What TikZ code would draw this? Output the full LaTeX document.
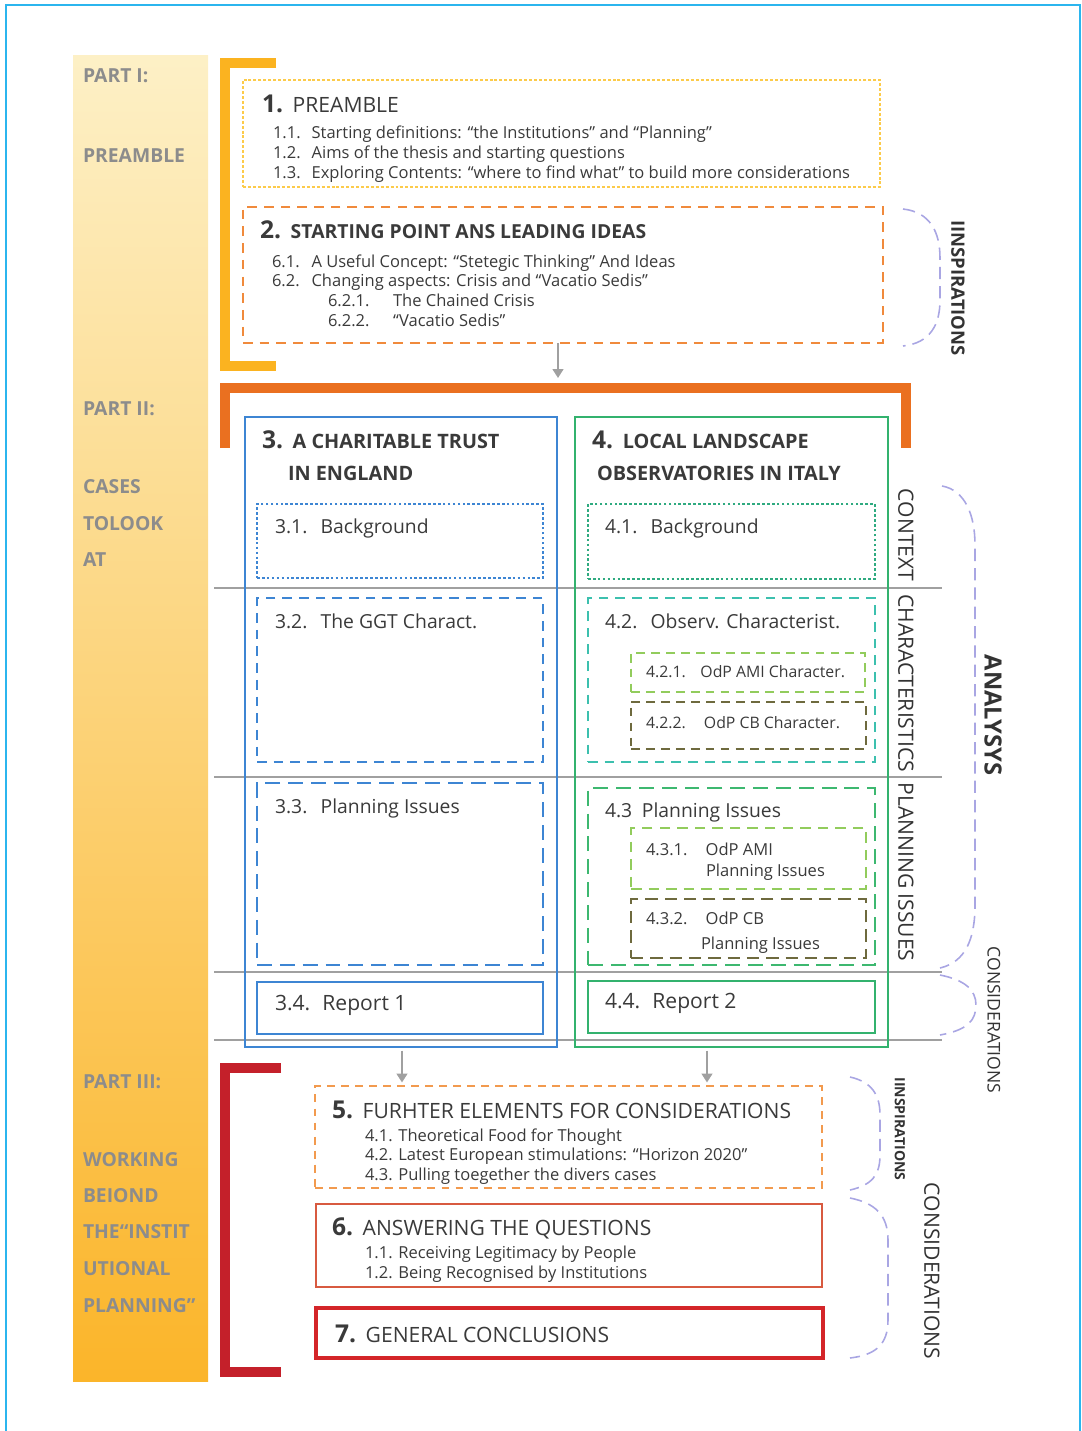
\documentclass[tikz,border=0pt]{standalone}
\usepackage{fontspec}
\setmainfont{Open Sans}
\usetikzlibrary{arrows.meta}

\definecolor{coltop}{HTML}{FDF0C6}
\definecolor{colbot}{HTML}{FBB52A}
\definecolor{brkone}{HTML}{FBB320}
\definecolor{brktwo}{HTML}{EA7020}
\definecolor{brkthree}{HTML}{C4202A}
\definecolor{yelbox}{HTML}{FCCB4A}
\definecolor{orgbox}{HTML}{F08A3C}
\definecolor{orgfive}{HTML}{F29A4E}
\definecolor{blubox}{HTML}{3D85D3}
\definecolor{grnbox}{HTML}{33B26E}
\definecolor{tealdot}{HTML}{2FAA80}
\definecolor{tealbox}{HTML}{3CC0AE}
\definecolor{lgrnbox}{HTML}{92CC5C}
\definecolor{olvbox}{HTML}{6E6A3E}
\definecolor{grnthree}{HTML}{3DB870}
\definecolor{redsix}{HTML}{D85A40}
\definecolor{redseven}{HTML}{D42529}
\definecolor{lavender}{HTML}{A9A6E3}
\definecolor{linegray}{HTML}{A0A0A0}
\definecolor{framecol}{HTML}{2BB5EE}
\definecolor{txtgray}{HTML}{3A3A3A}
\definecolor{partgray}{HTML}{8C8C8C}

\newcommand{\bignum}[1]{\makebox[17.5pt][l]{\fontsize{14}{14}\selectfont\bfseries #1}}
\newcommand{\itemno}[2]{\makebox[#1][l]{#2}}

\begin{document}
\begin{tikzpicture}[x=0.02cm, y=-0.02cm,
    every node/.style={inner sep=0pt, outer sep=0pt, text=txtgray},
    wh/.style 2 args={minimum width=#1*0.02cm, minimum height=#2*0.02cm},
    bx/.style={anchor=north west},
    part/.style={anchor=base west, text=partgray, font=\fontsize{11}{13}\selectfont\bfseries},
    head/.style={anchor=base west, font=\fontsize{12}{14}\selectfont},
    bhead/.style={anchor=base west, font=\fontsize{11.3}{13}\selectfont\bfseries},
    sub/.style={anchor=base west, font=\fontsize{11}{13}\selectfont},
    small/.style={anchor=base west, font=\fontsize{9.4}{11}\selectfont},
    side/.style={rotate=-90, text=black!80, font=\fontsize{12}{14}\selectfont},
    grid/.style={draw=linegray, line width=1.1pt},
    brc/.style={draw=lavender, line width=0.9pt, dash pattern=on 7pt off 4pt},
    arr/.style={draw=linegray, line width=1.2pt, -{Triangle[length=5pt,width=6pt]}},
    ]
    \useasboundingbox (0,0) rectangle (1082,1431);
    \draw[framecol, line width=0.9pt] (6,1440) -- (6,5) -- (1080,5) -- (1080,1440);

    % left column
    \shade[top color=coltop, bottom color=colbot] (73,55) rectangle (208,1381);
    \node[part] (p1a) at (83,82) {PART I:};
    \node[part] (p1b) at (83,162) {PREAMBLE};
    \node[part] (p2a) at (83,415) {PART II:};
    \node[part] (p2b) at (83,493) {CASES};
    \node[part] (p2c) at (83,530) {TOLOOK};
    \node[part] (p2d) at (83,566) {AT};
    \node[part] (p3a) at (83,1088) {PART III:};
    \node[part] (p3b) at (83,1166) {WORKING};
    \node[part] (p3c) at (83,1202) {BEIOND};
    \node[part] (p3d) at (83,1238) {THE“INSTIT};
    \node[part] (p3e) at (83,1275) {UTIONAL};
    \node[part] (p3f) at (83,1312) {PLANNING”};

    % brackets
    \draw[brkone, line width=5.7pt] (276,63) -- (225,63) -- (225,366) -- (276,366);
    \draw[brktwo, line width=5.7pt] (225,448) -- (225,388) -- (906,388) -- (906,448);
    \draw[brkthree, line width=5.7pt] (281,1068) -- (225,1068) -- (225,1372) -- (281,1372);

    % rows
    \draw[grid] (214,588) -- (942,588);
    \draw[grid] (214,777) -- (942,777);
    \draw[grid] (214,972) -- (942,972);
    \draw[grid] (214,1040) -- (942,1040);

    % part I
    \node[bx, wh={637}{107}, draw=yelbox, line width=1.2pt, dash pattern=on 1.7pt off 1.1pt] (box1) at (243,80) {};
    \node[head] (t1) at (262,112) {\bignum{1.}PREAMBLE};
    \node[small] (t1a) at (273,138) {\itemno{22pt}{1.1.}Starting definitions: “the Institutions” and “Planning”};
    \node[small] (t1b) at (273,158) {\itemno{22pt}{1.2.}Aims of the thesis and starting questions};
    \node[small] (t1c) at (273,178) {\itemno{22pt}{1.3.}Exploring Contents: “where to find what” to build more considerations};

    \node[bx, wh={640}{136}, draw=orgbox, line width=1.6pt, dash pattern=on 5.5pt off 4pt] (box2) at (243,207) {};
    \node[bhead, font=\fontsize{11}{13}\selectfont\bfseries] (t2) at (260,238) {\bignum{2.}STARTING POINT ANS LEADING IDEAS};
    \node[small] (t2a) at (272,267) {\itemno{22.5pt}{6.1.}A Useful Concept: “Stetegic Thinking” And Ideas};
    \node[small] (t2b) at (272,286) {\itemno{22.5pt}{6.2.}Changing aspects: Crisis and “Vacatio Sedis”};
    \node[small] (t2c) at (328,306) {\itemno{37pt}{6.2.1.}The Chained Crisis};
    \node[small] (t2d) at (328,326) {\itemno{37pt}{6.2.2.}“Vacatio Sedis”};

    \coordinate (a2) at (558,378);
    \draw[arr] (box2.south -| a2) -- (a2);

    % part II, case 3
    \node[bx, wh={312}{630}, draw=blubox, line width=1.1pt] (box3) at (245,417) {};
    \node[bhead] (t3) at (262,448) {\bignum{3.}A CHARITABLE TRUST};
    \node[bhead] (t3b) at (288,480) {IN ENGLAND};
    \node[bx, wh={286}{74}, draw=blubox, line width=1.6pt, dash pattern=on 1.5pt off 1.3pt] (box31) at (257,504) {};
    \node[sub] (s31) at (275,533) {\itemno{26pt}{3.1.}Background};
    \node[bx, wh={286}{164}, draw=blubox, line width=1.2pt, dash pattern=on 5.5pt off 4pt] (box32) at (257,598) {};
    \node[sub] (s32) at (275,628) {\itemno{26pt}{3.2.}The GGT Charact.};
    \node[bx, wh={286}{182}, draw=blubox, line width=1.2pt, dash pattern=on 8.5pt off 4.5pt] (box33) at (257,783) {};
    \node[sub] (s33) at (275,813) {\itemno{26pt}{3.3.}Planning Issues};
    \node[bx, wh={286}{52}, draw=blubox, line width=1.3pt] (box34) at (257,982) {};
    \node[sub, font=\fontsize{12}{14}\selectfont] (s34) at (275,1010) {\itemno{27pt}{3.4.}Report 1};

    % part II, case 4
    \node[bx, wh={313}{630}, draw=grnbox, line width=1.1pt] (box4) at (575,417) {};
    \node[bhead] (t4) at (592,448) {\bignum{4.}LOCAL LANDSCAPE};
    \node[bhead] (t4b) at (597,480) {OBSERVATORIES IN ITALY};
    \node[bx, wh={287}{75}, draw=tealdot, line width=1.6pt, dash pattern=on 1.5pt off 1.3pt] (box41) at (588,504) {};
    \node[sub] (s41) at (605,533) {\itemno{26pt}{4.1.}Background};
    \node[bx, wh={287}{164}, draw=tealbox, line width=1.2pt, dash pattern=on 5.5pt off 4pt] (box42) at (588,598) {};
    \node[sub] (s42) at (605,628) {\itemno{26pt}{4.2.}Observ. Characterist.};
    \node[bx, wh={234}{39}, draw=lgrnbox, line width=1.1pt, dash pattern=on 5pt off 3.5pt] (box421) at (631,653) {};
    \node[small, font=\fontsize{9}{11}\selectfont] (s421) at (646,677) {\itemno{31pt}{4.2.1.}OdP AMI Character.};
    \node[bx, wh={235}{47}, draw=olvbox, line width=1.2pt, dash pattern=on 5pt off 3.5pt] (box422) at (631,702) {};
    \node[small, font=\fontsize{9}{11}\selectfont] (s422) at (646,728) {\itemno{33pt}{4.2.2.}OdP CB Character.};
    \node[bx, wh={287}{177}, draw=grnthree, line width=1.2pt, dash pattern=on 8.5pt off 4.5pt] (box43) at (588,788) {};
    \node[sub] (s43) at (605,817) {\itemno{21pt}{4.3}Planning Issues};
    \node[bx, wh={235}{61}, draw=lgrnbox, line width=1.2pt, dash pattern=on 6pt off 4pt] (box431) at (631,828) {};
    \node[small] (s431) at (646,855) {\itemno{34pt}{4.3.1.}OdP AMI};
    \node[small] (s431b) at (706,876) {Planning Issues};
    \node[bx, wh={235}{59}, draw=olvbox, line width=1.4pt, dash pattern=on 7pt off 4pt] (box432) at (631,899) {};
    \node[small] (s432) at (646,924) {\itemno{34pt}{4.3.2.}OdP CB};
    \node[small] (s432b) at (701,949) {Planning Issues};
    \node[bx, wh={287}{52}, draw=grnbox, line width=1.3pt] (box44) at (588,981) {};
    \node[sub, font=\fontsize{12}{14}\selectfont] (s44) at (605,1008) {\itemno{27pt}{4.4.}Report 2};

    % side labels
    \node[side] (lctx) at (906,535) {CONTEXT};
    \node[side] (lchar) at (906,683) {CHARACTERISTICS};
    \node[side] (lplan) at (906,872) {PLANNING ISSUES};
    \node[side, font=\fontsize{13.5}{15}\selectfont\bfseries] (lana) at (993,715) {ANALYSYS};
    \node[side, font=\fontsize{10}{12}\selectfont] (lcons) at (994,1020) {CONSIDERATIONS};
    \node[side, font=\fontsize{10.5}{12}\selectfont\bfseries] (linsp) at (958,288) {IINSPIRATIONS};
    \node[side, font=\fontsize{8}{10}\selectfont\bfseries] (linspb) at (900,1129) {IINSPIRATIONS};
    \node[side, font=\fontsize{12}{14}\selectfont] (lconsb) at (932,1271) {CONSIDERATIONS};

    % braces
    \draw[brc] (903,209) .. controls (930,212) and (940,232) .. (940,258) -- (940,300) .. controls (940,325) and (930,343) .. (903,346);
    \draw[brc] (942,486) .. controls (965,490) and (975,515) .. (975,545) -- (975,905) .. controls (975,940) and (965,962) .. (940,968);
    \draw[brc] (940,975) .. controls (965,980) and (976,990) .. (976,1005) .. controls (976,1020) and (968,1030) .. (940,1035);
    \draw[brc] (850,1077) .. controls (872,1082) and (880,1095) .. (880,1115) -- (880,1155) .. controls (880,1175) and (872,1185) .. (850,1190);
    \draw[brc] (850,1198) .. controls (875,1203) and (888,1215) .. (888,1240) -- (888,1320) .. controls (888,1345) and (875,1355) .. (850,1358);

    % part III
    \node[bx, wh={507}{102}, draw=orgfive, line width=1.3pt, dash pattern=on 4.5pt off 3.5pt] (box5) at (315,1086) {};
    \node[head] (t5) at (332,1118) {\bignum{5.}FURHTER ELEMENTS FOR CONSIDERATIONS};
    \node[small] (t5a) at (365,1141) {\itemno{19pt}{4.1.}Theoretical Food for Thought};
    \node[small] (t5b) at (365,1160) {\itemno{19pt}{4.2.}Latest European stimulations: “Horizon 2020”};
    \node[small] (t5c) at (365,1180) {\itemno{19pt}{4.3.}Pulling toegether the divers cases};

    \node[bx, wh={506}{83}, draw=redsix, line width=1.5pt] (box6) at (316,1204) {};
    \node[head] (t6) at (332,1235) {\bignum{6.}ANSWERING THE QUESTIONS};
    \node[small] (t6a) at (365,1258) {\itemno{19pt}{1.1.}Receiving Legitimacy by People};
    \node[small] (t6b) at (365,1278) {\itemno{19pt}{1.2.}Being Recognised by Institutions};

    \node[bx, wh={507}{50}, draw=redseven, line width=1.8pt] (box7) at (316,1308) {};
    \node[head] (t7) at (335,1342) {\bignum{7.}GENERAL CONCLUSIONS};

    \coordinate (a3) at (402,0);
    \coordinate (a4) at (707,0);
    \draw[arr, shorten >=2pt, shorten <=2pt] (box3.south -| a3) -- (box5.north -| a3);
    \draw[arr, shorten >=2pt, shorten <=2pt] (box4.south -| a4) -- (box5.north -| a4);

\end{tikzpicture}
\end{document}
